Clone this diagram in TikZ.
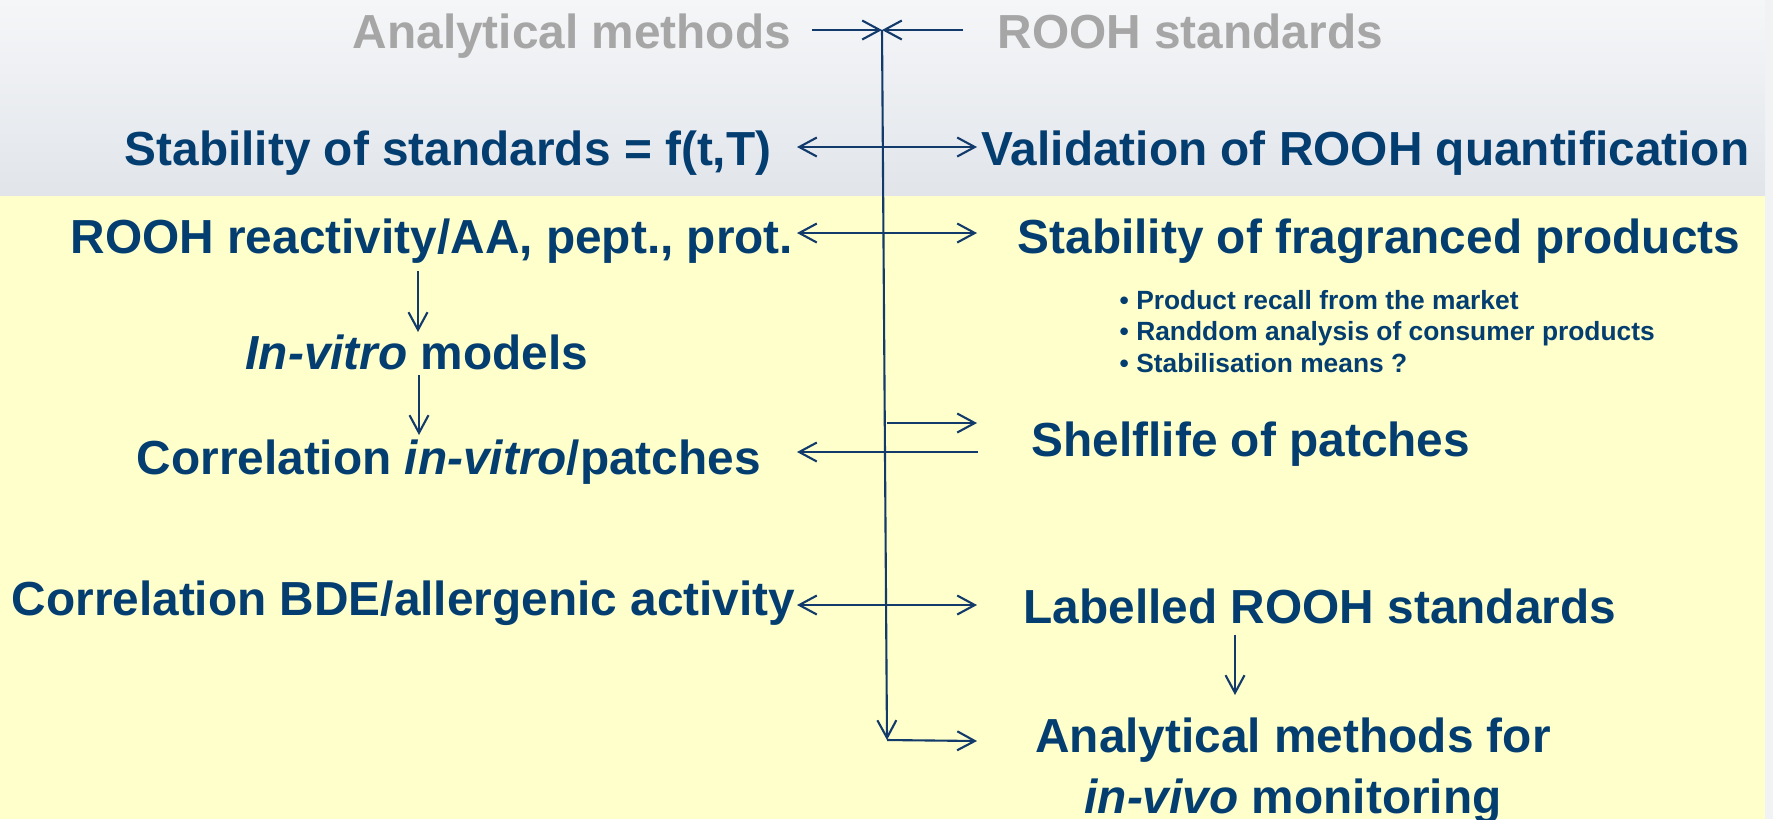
\documentclass[tikz,border=0pt]{standalone}
\usepackage{fontspec}
\setmainfont{Liberation Sans}
\usepackage{xcolor}
\definecolor{textblue}{HTML}{043E70}
\definecolor{lineblue}{HTML}{123A6B}
\definecolor{headgrey}{HTML}{A6A6A6}
\definecolor{topbg}{HTML}{F5F6F8}
\definecolor{topbgdark}{HTML}{E1E5EA}
\definecolor{notebg}{HTML}{FFFFCC}
\definecolor{edgebg}{HTML}{F1F2F4}
\usepackage{tikz}
\usetikzlibrary{arrows.meta}

\begin{document}
\begin{tikzpicture}[
  lbl/.style={font=\bfseries\fontsize{13.6}{15.6}\selectfont, text=textblue,
              inner sep=0pt, anchor=base west},
  head/.style={lbl, text=headgrey},
  note/.style={font=\bfseries\fontsize{7.5}{8.8}\selectfont, text=textblue,
               inner sep=0pt, anchor=base west},
  arr/.style={-{Straight Barb[length=5pt,width=5.4pt]}, line width=0.6pt, color=lineblue},
  dbl/.style={{Straight Barb[length=5pt,width=5.4pt]}-{Straight Barb[length=5pt,width=5.4pt]},
              line width=0.6pt, color=lineblue}
]
  \useasboundingbox (0,0) rectangle (17.73,-8.19);
  \fill[edgebg] (0,0) rectangle (17.73,-8.19);
  \shade[top color=topbg, bottom color=topbgdark] (0,0) rectangle (17.65,-1.96);
  \fill[notebg] (0,-1.96) rectangle (17.65,-8.19);

  \node[head] (am)  at (3.52,-0.485) {Analytical methods};
  \node[head] (rs)  at (9.97,-0.485) {ROOH standards};

  \node[lbl] (stab)  at (1.24,-1.65) {Stability of standards = f(t,T)};
  \node[lbl] (val)   at (9.81,-1.65) {Validation of ROOH quantification};
  \node[lbl] (reac)  at (0.70,-2.53) {ROOH reactivity/AA, pept., prot.};
  \node[lbl] (frag)  at (10.17,-2.53) {Stability of fragranced products};

  \node[note] (b1) at (11.19,-3.095) {\textbullet\ Product recall from the market};
  \node[note] (b2) at (11.19,-3.405) {\textbullet\ Randdom analysis of consumer products};
  \node[note] (b3) at (11.19,-3.725) {\textbullet\ Stabilisation means ?};

  \node[lbl] (vitro) at (2.45,-3.69) {\textit{In-vitro} models};
  \node[lbl] (corr)  at (1.36,-4.74) {Correlation \textit{in-vitro}/patches};
  \node[lbl] (shelf) at (10.31,-4.56) {Shelflife of patches};
  \node[lbl] (bde)   at (0.11,-6.15) {Correlation BDE/allergenic activity};
  \node[lbl] (lab)   at (10.23,-6.23) {Labelled ROOH standards};
  \node[lbl, anchor=north, align=center, font=\bfseries\fontsize{13.6}{17.3}\selectfont]
    (anal) at (12.93,-7.17) {Analytical methods for\\\textit{in-vivo} monitoring};

  \coordinate (top) at (8.82,-0.30);
  \coordinate (bot) at (8.87,-7.40);
  \coordinate (amR) at (8.12,-0.30);
  \coordinate (rsL) at (9.63,-0.30);
  \coordinate (l2) at (7.97,-1.47);
  \coordinate (r2) at (9.77,-1.47);
  \coordinate (l3) at (7.97,-2.33);
  \coordinate (r3) at (9.77,-2.33);
  \coordinate (s4) at (8.87,-4.23);
  \coordinate (r4) at (9.77,-4.23);
  \coordinate (l4) at (7.97,-4.52);
  \coordinate (e4) at (9.78,-4.52);
  \coordinate (l5) at (7.97,-6.05);
  \coordinate (r5) at (9.77,-6.05);
  \coordinate (r6) at (9.77,-7.41);
  \coordinate (v1) at (4.18,-2.71);
  \coordinate (v2) at (4.18,-3.32);
  \coordinate (v3) at (4.19,-3.75);
  \coordinate (v4) at (4.19,-4.35);
  \coordinate (w1) at (12.35,-6.35);
  \coordinate (w2) at (12.35,-6.95);

  \draw[arr] (amR) -- (top);
  \draw[arr] (rsL) -- (top);
  \draw[arr] (top) -- (bot);
  \draw[arr] (bot) -- (r6);
  \draw[dbl] (l2) -- (r2);
  \draw[dbl] (l3) -- (r3);
  \draw[arr] (s4) -- (r4);
  \draw[arr] (e4) -- (l4);
  \draw[dbl] (l5) -- (r5);
  \draw[arr] (v1) -- (v2);
  \draw[arr] (v3) -- (v4);
  \draw[arr] (w1) -- (w2);
\end{tikzpicture}
\end{document}
